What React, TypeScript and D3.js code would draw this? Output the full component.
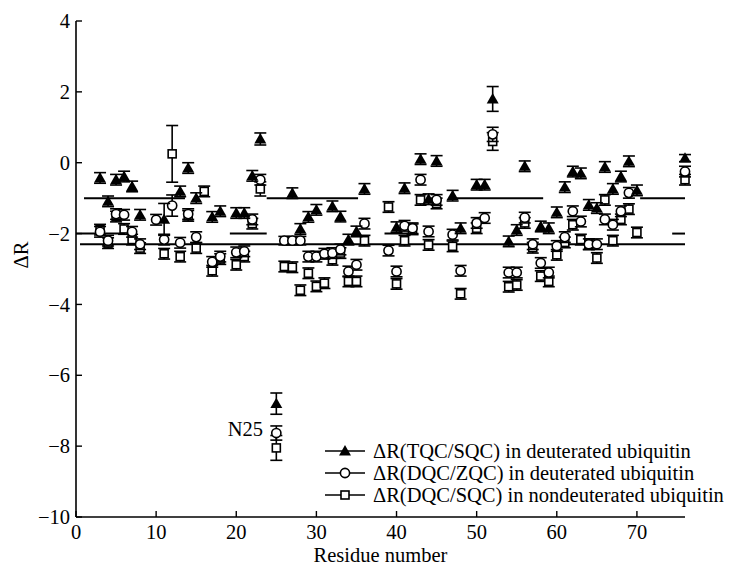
import React from 'react';
import * as d3 from 'd3';

// ΔR(TQC/SQC) in deuterated ubiquitin (filled triangles)
const tqcRes = [3, 4, 5, 6, 7, 8, 11, 13, 14, 15, 17, 18, 20, 21, 22, 23, 25, 27, 28, 29, 30, 32, 33, 34, 35, 36, 40, 41, 43, 44, 45, 47, 48, 50, 51, 52, 54, 55, 56, 58, 59, 60, 61, 62, 63, 64, 65, 66, 67, 68, 69, 70, 76];
const tqcVal = [-0.43, -1.09, -0.48, -0.39, -0.67, -1.47, -1.6, -0.81, -0.15, -1.0, -1.53, -1.37, -1.42, -1.42, -0.37, 0.67, -6.8, -0.86, -1.87, -1.53, -1.33, -1.23, -1.52, -2.17, -1.94, -0.74, -1.82, -0.72, 0.1, -1.03, 0.05, -0.93, -1.85, -0.62, -0.62, 1.8, -2.22, -1.9, -0.1, -1.8, -1.85, -1.4, -0.69, -0.25, -0.3, -1.19, -1.28, -0.12, -0.74, -0.39, 0.04, -0.78, 0.13];
const tqcErr = [0.15, 0.15, 0.15, 0.15, 0.15, 0.15, 0.45, 0.15, 0.15, 0.15, 0.15, 0.15, 0.15, 0.15, 0.15, 0.17, 0.3, 0.15, 0.15, 0.15, 0.15, 0.15, 0.15, 0.15, 0.15, 0.15, 0.15, 0.15, 0.15, 0.15, 0.15, 0.15, 0.15, 0.15, 0.15, 0.35, 0.15, 0.15, 0.15, 0.15, 0.15, 0.15, 0.15, 0.15, 0.15, 0.15, 0.15, 0.15, 0.15, 0.15, 0.15, 0.15, 0.1];

// ΔR(DQC/ZQC) in deuterated ubiquitin (open circles)
const dqcRes = [3, 4, 5, 6, 7, 8, 10, 11, 12, 13, 14, 15, 17, 18, 20, 21, 22, 23, 25, 26, 27, 28, 29, 30, 31, 32, 33, 34, 35, 36, 39, 40, 41, 42, 43, 44, 45, 47, 48, 50, 51, 52, 54, 55, 56, 57, 58, 59, 60, 61, 62, 63, 64, 65, 66, 67, 68, 69, 76];
const dqcVal = [-1.95, -2.2, -1.45, -1.47, -1.95, -2.3, -1.61, -2.17, -1.21, -2.26, -1.45, -2.1, -2.8, -2.65, -2.53, -2.5, -1.6, -0.48, -7.63, -2.2, -2.2, -2.2, -2.65, -2.65, -2.57, -2.55, -2.45, -3.07, -2.88, -1.72, -2.48, -3.07, -1.78, -1.85, -0.48, -1.94, -1.05, -2.03, -3.05, -1.7, -1.56, 0.8, -3.1, -3.1, -1.55, -2.3, -2.83, -3.1, -2.35, -2.1, -1.37, -1.66, -2.3, -2.3, -1.6, -1.75, -1.37, -0.85, -0.25];
const dqcErr = [0.15, 0.15, 0.15, 0.15, 0.15, 0.15, 0.15, 0.15, 0.3, 0.15, 0.15, 0.15, 0.15, 0.15, 0.15, 0.15, 0.15, 0.15, 0.2, 0.12, 0.12, 0.12, 0.15, 0.15, 0.15, 0.15, 0.15, 0.15, 0.15, 0.15, 0.15, 0.15, 0.15, 0.15, 0.15, 0.15, 0.15, 0.15, 0.15, 0.15, 0.15, 0.2, 0.15, 0.15, 0.15, 0.15, 0.15, 0.15, 0.15, 0.15, 0.15, 0.15, 0.15, 0.15, 0.15, 0.15, 0.15, 0.15, 0.15];

// ΔR(DQC/SQC) in nondeuterated ubiquitin (open squares)
const sqcRes = [3, 4, 5, 6, 7, 8, 11, 12, 13, 14, 15, 16, 17, 18, 20, 21, 22, 23, 25, 26, 27, 28, 29, 30, 31, 32, 33, 34, 35, 36, 39, 40, 41, 42, 43, 44, 45, 47, 48, 50, 52, 54, 55, 56, 57, 58, 59, 60, 61, 62, 63, 64, 65, 66, 67, 68, 69, 70, 76];
const sqcVal = [-1.89, -2.27, -1.52, -1.87, -2.17, -2.41, -2.57, 0.25, -2.65, -1.5, -2.41, -0.81, -3.05, -2.72, -2.88, -2.65, -1.72, -0.74, -8.05, -2.93, -2.95, -3.6, -3.12, -3.49, -3.4, -2.74, -2.55, -3.35, -3.35, -2.2, -1.25, -3.42, -2.2, -1.88, -1.05, -2.32, -1.15, -2.36, -3.7, -1.85, 0.6, -3.5, -3.45, -1.7, -2.4, -3.2, -3.35, -2.6, -2.25, -1.75, -2.17, -2.3, -2.69, -1.05, -2.2, -1.6, -1.31, -1.97, -0.48];
const sqcErr = [0.15, 0.15, 0.15, 0.15, 0.15, 0.15, 0.15, 0.8, 0.15, 0.15, 0.15, 0.15, 0.15, 0.15, 0.15, 0.15, 0.15, 0.2, 0.35, 0.15, 0.15, 0.15, 0.15, 0.15, 0.15, 0.15, 0.15, 0.15, 0.15, 0.15, 0.15, 0.15, 0.15, 0.15, 0.15, 0.15, 0.15, 0.15, 0.15, 0.15, 0.25, 0.15, 0.15, 0.15, 0.15, 0.15, 0.15, 0.15, 0.15, 0.15, 0.15, 0.15, 0.15, 0.15, 0.15, 0.15, 0.15, 0.15, 0.15];

// horizontal reference segments (level, from residue, to residue)
const refLevel = [-1, -1, -1, -1, -2, -2, -2, -2, -2.3];
const refFrom = [1, 23.8, 46.9, 70.4, 0, 19.2, 38.5, 74.4, 0.5];
const refTo = [13.6, 35.2, 58.3, 76, 6, 23.8, 42.5, 76, 76];

const xTicks = [0, 10, 20, 30, 40, 50, 60, 70];
const yTicks = [4, 2, 0, -2, -4, -6, -8, -10];

const legendLabels = [
  'ΔR(TQC/SQC) in deuterated ubiquitin',
  'ΔR(DQC/ZQC) in deuterated ubiquitin',
  'ΔR(DQC/SQC) in nondeuterated ubiquitin',
];

const font = "'Liberation Serif', 'Times New Roman', serif";
const fs = 20.5;

const x = d3.scaleLinear().domain([0, 76]).range([76, 685]);
const y = d3.scaleLinear().domain([-10, 4]).range([517, 21]);

const triPath = d3.symbol(d3.symbolTriangle, 62)() as string;

const Marker = ({ kind, cx, cy }: { kind: string; cx: number; cy: number }) => {
  if (kind === 'tri') return <path d={triPath} transform={`translate(${cx},${cy + 1})`} fill="#000" />;
  if (kind === 'circ') return <circle cx={cx} cy={cy} r={4.6} fill="#fff" stroke="#000" strokeWidth={1.6} />;
  return <rect x={cx - 4} y={cy - 4} width={8} height={8} fill="#fff" stroke="#000" strokeWidth={1.6} />;
};

const Series = ({ res, val, err, kind }: { res: number[]; val: number[]; err: number[]; kind: string }) => (
  <g>
    {res.map((r, i) => {
      const cx = x(r);
      const y0 = y(val[i] + err[i]);
      const y1 = y(val[i] - err[i]);
      return (
        <g key={i} stroke="#000" strokeWidth={1.6}>
          <line x1={cx} x2={cx} y1={y0} y2={y1} />
          <line x1={cx - 6} x2={cx + 6} y1={y0} y2={y0} />
          <line x1={cx - 6} x2={cx + 6} y1={y1} y2={y1} />
        </g>
      );
    })}
    {res.map((r, i) => (
      <Marker key={i} kind={kind} cx={x(r)} cy={y(val[i])} />
    ))}
  </g>
);

export default function App() {
  const kinds = ['tri', 'circ', 'sq'];
  return (
    <div style={{ position: 'absolute', left: 0, top: 0 }}>
      <svg width={749} height={565} viewBox="0 0 749 565" style={{ display: 'block', background: '#fff' }}>
        {/* reference lines */}
        {refLevel.map((lv, i) => (
          <line key={i} x1={x(refFrom[i])} x2={x(refTo[i])} y1={y(lv)} y2={y(lv)} stroke="#000" strokeWidth={2} />
        ))}

        {/* axes */}
        <line x1={x(0)} x2={x(0)} y1={y(4)} y2={y(-10)} stroke="#000" strokeWidth={1.6} />
        <line x1={x(0)} x2={x(76)} y1={y(-10)} y2={y(-10)} stroke="#000" strokeWidth={1.6} />
        {yTicks.map(t => (
          <g key={t}>
            <line x1={x(0)} x2={x(0) + 6} y1={y(t)} y2={y(t)} stroke="#000" strokeWidth={1.4} />
            <text x={x(0) - 6} y={y(t)} dy="0.35em" textAnchor="end" fontFamily={font} fontSize={fs}>
              {t < 0 ? `−${-t}` : t}
            </text>
          </g>
        ))}
        {xTicks.map(t => (
          <g key={t}>
            <line x1={x(t)} x2={x(t)} y1={y(-10)} y2={y(-10) - 6} stroke="#000" strokeWidth={1.4} />
            <text x={x(t)} y={y(-10) + 22} textAnchor="middle" fontFamily={font} fontSize={fs}>{t}</text>
          </g>
        ))}
        <text x={(x(0) + x(76)) / 2} y={562} textAnchor="middle" fontFamily={font} fontSize={fs}>Residue number</text>
        <text transform="translate(28,255) rotate(-90)" textAnchor="middle" fontFamily={font} fontSize={fs}>ΔR</text>

        {/* data */}
        <Series res={sqcRes} val={sqcVal} err={sqcErr} kind="sq" />
        <Series res={dqcRes} val={dqcVal} err={dqcErr} kind="circ" />
        <Series res={tqcRes} val={tqcVal} err={tqcErr} kind="tri" />

        <text x={263} y={y(-7.5)} dy="0.35em" textAnchor="end" fontFamily={font} fontSize={fs}>N25</text>

        {/* legend */}
        {legendLabels.map((lab, i) => {
          const ly = 451 + i * 22;
          return (
            <g key={lab}>
              <line x1={325} x2={365} y1={ly} y2={ly} stroke="#000" strokeWidth={1.4} />
              <Marker kind={kinds[i]} cx={345} cy={ly} />
              <text x={373} y={ly} dy="0.35em" fontFamily={font} fontSize={fs}>{lab}</text>
            </g>
          );
        })}
      </svg>
    </div>
  );
}
